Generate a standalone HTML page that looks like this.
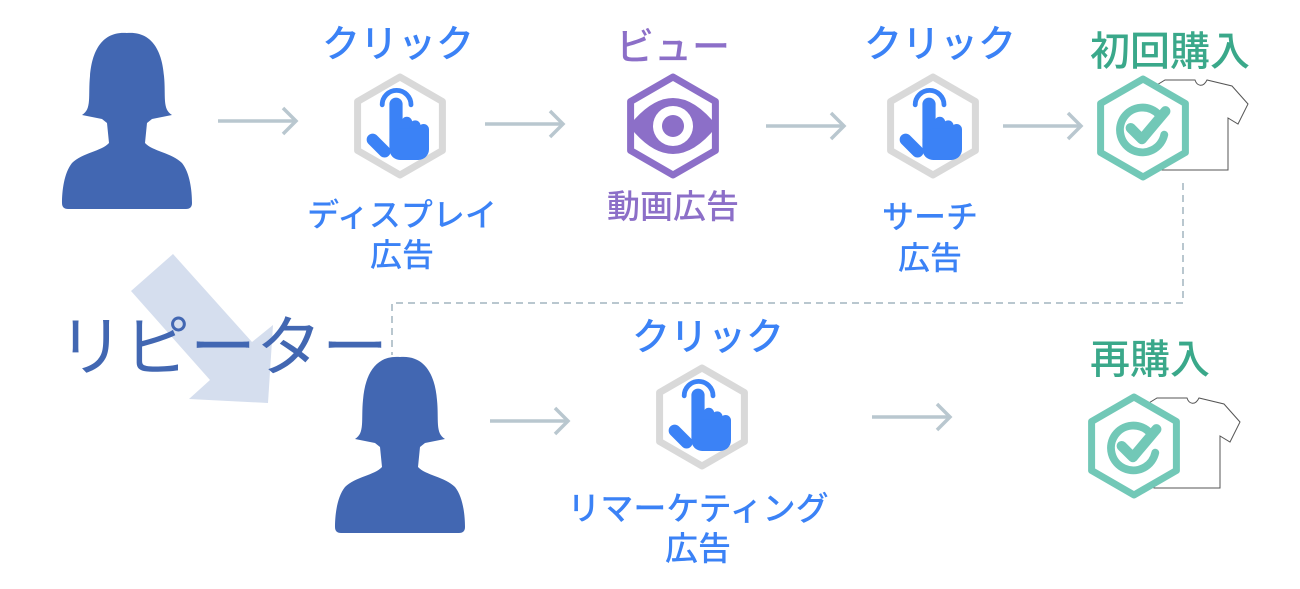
<!DOCTYPE html>
<html><head><meta charset="utf-8"><style>
html,body{margin:0;padding:0;background:#fff;}
svg{display:block;}
text{font-family:"Liberation Sans","Noto Sans CJK JP",sans-serif;}
</style></head><body>
<svg width="1300" height="589" viewBox="0 0 1300 589" xmlns="http://www.w3.org/2000/svg">
<defs>
  <path id="person" d="M65,2 C40,0 30,20 28,45 C26,65 30,78 20,84 L40,88 L45,92 L47,112 C40,120 20,122 10,132 C2,142 0,160 0,172 Q0,178 6,178 L124,178 Q130,178 130,172 C130,160 128,142 120,132 C110,122 90,120 83,112 L85,92 L90,88 L110,84 C100,78 104,65 102,45 C100,20 90,0 65,2 Z" fill="#4267b2"/>
  <polygon id="hex" points="0,-49 42.4,-24.5 42.4,24.5 0,49 -42.4,24.5 -42.4,-24.5" fill="#fff" stroke-width="7" stroke-linejoin="round"/>
  <g id="hand0" fill="#3b82f6">
    <path d="M-14,-14 A12,12 0 1 1 10,-14" fill="none" stroke="#3b82f6" stroke-width="4" stroke-linecap="round" transform="translate(0,-2)"/>
    <rect x="-8" y="-22" width="11" height="40" rx="5.5"/>
    <rect x="2" y="-6" width="9" height="22" rx="4.5"/>
    <rect x="9" y="-3" width="9" height="20" rx="4.5"/>
    <rect x="16" y="0" width="9" height="18" rx="4.5"/>
    <rect x="-8" y="4" width="33" height="26" rx="9"/>
    <rect x="-22" y="6" width="10" height="24" rx="5" transform="rotate(-45 -17 18)"/>
  </g>
  <g id="hand"><use href="#hand0" transform="translate(-1,-2) scale(1.2)"/></g>
  <path id="shirt" d="M25,0 L55,0 C57,6 63,8 67,0 L92,6 L108,24 L98,44 L88,38 L88,90 L22,90 L22,38 L12,44 L2,24 L12,8 Z" fill="#fff" stroke="#555" stroke-width="1"/>
  <g id="check0">
    <path d="M14,-12 A20,20 0 1 0 19,6" fill="none" stroke="#72c8b7" stroke-width="7" stroke-linecap="round"/>
    <path d="M-11,0 L-1,10 L20,-15" fill="none" stroke="#72c8b7" stroke-width="9" stroke-linecap="round" stroke-linejoin="round"/>
  </g>
  <g id="check"><use href="#check0" transform="scale(1.12)"/></g>
  <g id="arrow" stroke="#b9c7cf" stroke-width="3.5" fill="none">
    <line x1="0" y1="0" x2="78" y2="0"/>
    <polyline points="65,-13 78,0 65,13"/>
  </g>
</defs>

<polygon points="131,291 173,254 252,342 273,325 268,403 189,399 210,380" fill="#d5deee"/>
<text x="58" y="370" font-size="66" fill="#4267b2">リピーター</text>

<polyline points="1183,183 1183,303 392,303 392,355" fill="none" stroke="#b9c7cf" stroke-width="2" stroke-dasharray="7,5"/>

<use href="#person" x="62" y="31"/>
<use href="#person" x="335" y="355"/>

<use href="#arrow" x="218" y="121"/>
<use href="#arrow" x="485" y="124"/>
<use href="#arrow" x="766" y="126"/>
<use href="#arrow" x="1003" y="126"/>
<use href="#arrow" x="490" y="421"/>
<use href="#arrow" x="872" y="417"/>

<g transform="translate(400,126)"><use href="#hex" stroke="#d9d9d9"/><use href="#hand"/></g>
<g transform="translate(673,126)">
  <use href="#hex" stroke="#8c6fc8"/>
  <path d="M-44,0 Q0,-56 44,0 Q0,56 -44,0 Z" fill="#8c6fc8"/>
  <circle r="20" fill="#fff"/><circle r="11" fill="#8c6fc8"/>
</g>
<g transform="translate(933,126)"><use href="#hex" stroke="#d9d9d9"/><use href="#hand"/></g>
<g transform="translate(702,417)"><use href="#hex" stroke="#d9d9d9"/><use href="#hand"/></g>

<use href="#shirt" x="1140" y="80"/>
<g transform="translate(1143,128)"><use href="#hex" stroke="#72c8b7"/><use href="#check"/></g>
<use href="#shirt" x="1132" y="398"/>
<g transform="translate(1134,446)"><use href="#hex" stroke="#72c8b7"/><use href="#check"/></g>

<g text-anchor="middle" font-weight="500">
<text x="398" y="57" font-size="38" fill="#3b82f6">クリック</text>
<text x="402" y="226" font-size="32" fill="#3b82f6">ディスプレイ</text>
<text x="402" y="266" font-size="32" fill="#3b82f6">広告</text>
<text x="673" y="60" font-size="38" fill="#8c6fc8">ビュー</text>
<text x="673" y="218" font-size="33" fill="#8c6fc8">動画広告</text>
<text x="940" y="57" font-size="38" fill="#3b82f6">クリック</text>
<text x="930" y="228" font-size="32" fill="#3b82f6">サーチ</text>
<text x="930" y="269" font-size="32" fill="#3b82f6">広告</text>
<text x="1170" y="65" font-size="40" fill="#3aa88a">初回購入</text>
<text x="1150" y="373" font-size="40" fill="#3aa88a">再購入</text>
<text x="708" y="350" font-size="38" fill="#3b82f6">クリック</text>
<text x="698" y="520" font-size="33" fill="#3b82f6">リマーケティング</text>
<text x="698" y="560" font-size="33" fill="#3b82f6">広告</text>
</g>
</svg>
</body></html>
